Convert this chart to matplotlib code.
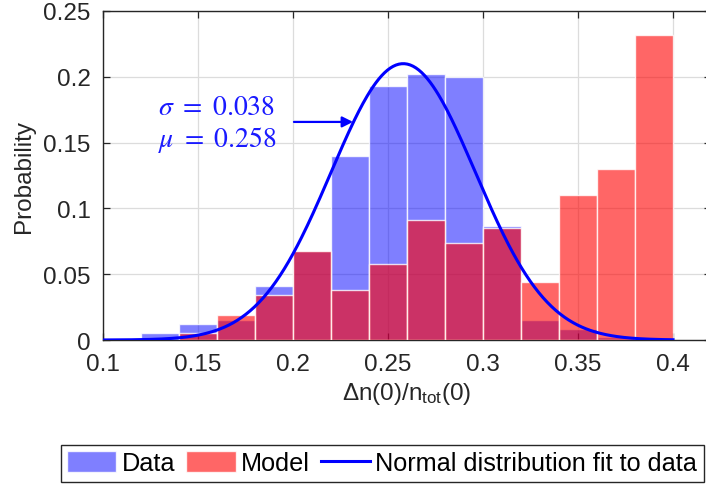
import matplotlib
matplotlib.use("Agg")
import matplotlib.pyplot as plt
import numpy as np

# histogram bins (probability per bin, bin width 0.02)
bin_edges = [0.10, 0.12, 0.14, 0.16, 0.18, 0.20, 0.22, 0.24, 0.26,
             0.28, 0.30, 0.32, 0.34, 0.36, 0.38, 0.40]
data_prob = [0.000, 0.005, 0.012, 0.015, 0.041, 0.068, 0.140, 0.193,
             0.202, 0.200, 0.087, 0.015, 0.008, 0.002, 0.000]
model_prob = [0.000, 0.000, 0.005, 0.019, 0.034, 0.068, 0.038, 0.058,
              0.091, 0.074, 0.085, 0.044, 0.110, 0.130, 0.232]

# normal fit to data
fit_mu = 0.258
fit_sigma = 0.038

xticks = [0.1, 0.15, 0.2, 0.25, 0.3, 0.35, 0.4]
xtick_labels = ["0.1", "0.15", "0.2", "0.25", "0.3", "0.35", "0.4"]
yticks = [0, 0.05, 0.1, 0.15, 0.2, 0.25]
ytick_labels = ["0", "0.05", "0.1", "0.15", "0.2", "0.25"]

plt.rcParams["font.family"] = ["Liberation Sans", "DejaVu Sans"]
plt.rcParams["mathtext.fontset"] = "custom"
plt.rcParams["mathtext.rm"] = "Liberation Sans"
plt.rcParams["mathtext.it"] = "Liberation Sans:italic"

fs = 17.5
dark = "#262626"

fig = plt.figure(figsize=(7.06, 4.85), dpi=100)
ax = fig.add_axes([0.1459, 0.2969, 0.8612, 0.6784])

left = np.array(bin_edges[:-1])
width = np.diff(bin_edges)
h_data = ax.bar(left, data_prob, width=width, align="edge", color=(0, 0, 1, 0.5),
                edgecolor=(1, 1, 1, 0.8), linewidth=1.0, label="Data", zorder=2)
h_model = ax.bar(left, model_prob, width=width, align="edge", color=(1, 0, 0, 0.6),
                 edgecolor=(1, 1, 1, 0.8), linewidth=1.0, label="Model", zorder=3)

xs = np.linspace(bin_edges[0], bin_edges[-1], 400)
binw = bin_edges[1] - bin_edges[0]
ys = binw * np.exp(-0.5 * ((xs - fit_mu) / fit_sigma) ** 2) / (fit_sigma * np.sqrt(2 * np.pi))
h_fit, = ax.plot(xs, ys, color=(0, 0, 1), lw=2.2,
                 label="Normal distribution fit to data", zorder=4)

ax.set_xlim(0.1, 0.42)
ax.set_ylim(0, 0.25)
ax.set_xticks(xticks)
ax.set_xticklabels(xtick_labels)
ax.set_yticks(yticks)
ax.set_yticklabels(ytick_labels)
ax.tick_params(direction="in", top=True, right=True, length=5, width=0.9,
               labelsize=fs, colors=dark, pad=9)
ax.grid(True, color="#dcdcdc", lw=0.9, zorder=0)
ax.set_axisbelow(True)
for s in ax.spines.values():
    s.set_color(dark)
    s.set_linewidth(1.0)

ax.set_xlabel(r"$\Delta$n(0)/n$_{\mathrm{tot}}$(0)", fontsize=fs, color=dark, labelpad=4)
ax.set_ylabel("Probability", fontsize=fs, color=dark, labelpad=6)

ann_color = (0.1, 0.1, 1)
ax.text(0.1289, 0.1772, r"$\sigma\ =\ 0.038$", color=ann_color, fontsize=20,
        math_fontfamily="stix", ha="left", va="center")
ax.text(0.1289, 0.1528, r"$\mu\ =\ 0.258$", color=ann_color, fontsize=20,
        math_fontfamily="stix", ha="left", va="center")
ax.annotate("", xy=(0.2316, 0.1657), xytext=(0.2005, 0.1657),
            arrowprops=dict(arrowstyle="-|>", color=(0, 0, 1), lw=1.6,
                            mutation_scale=16, shrinkA=0, shrinkB=0))

leg = ax.legend(handles=[h_data, h_model, h_fit],
                loc="lower left", bbox_to_anchor=(0.086, 0.005),
                bbox_transform=fig.transFigure, ncol=3, fontsize=18.2,
                frameon=True, fancybox=False, framealpha=1, edgecolor=dark,
                borderaxespad=0, borderpad=0.25, handlelength=1.95,
                handleheight=0.9, handletextpad=0.2, columnspacing=0.45)
leg.get_frame().set_linewidth(1.0)

fig.savefig("out.png", dpi=100)
